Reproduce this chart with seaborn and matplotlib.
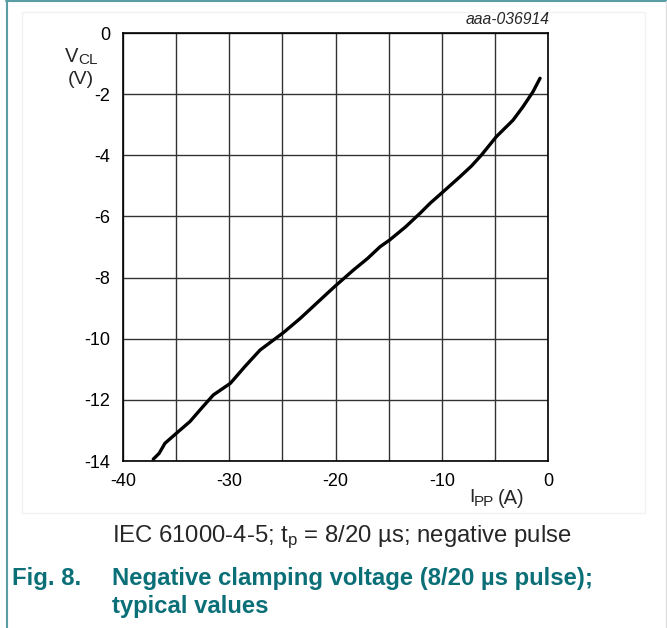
import matplotlib
matplotlib.use("Agg")
import matplotlib.pyplot as plt
import seaborn as sns
import pandas as pd
from matplotlib.lines import Line2D
from matplotlib.patches import Rectangle

# ---- data ----
ipp = [-37.15, -36.6, -36.05, -35.0, -33.7, -32.6, -31.5, -29.9, -28.5, -27.1,
       -24.9, -23.3, -21.5, -20.1, -18.3, -17.0, -15.8, -14.9, -13.4, -12.05,
       -11.1, -9.86, -8.28, -7.2, -6.26, -4.86, -3.29, -2.35, -1.41, -0.75]
vcl = [-13.94, -13.75, -13.42, -13.1, -12.71, -12.27, -11.84, -11.46, -10.90, -10.37,
       -9.80, -9.33, -8.75, -8.30, -7.75, -7.38, -6.99, -6.77, -6.34, -5.90,
       -5.57, -5.19, -4.70, -4.35, -3.99, -3.39, -2.85, -2.41, -1.92, -1.48]
x_ticks = [-40, -30, -20, -10, 0]
y_ticks = [0, -2, -4, -6, -8, -10, -12, -14]
x_grid = [-35, -25, -15, -5]

sns.set_theme(style="white")
plt.rcParams['font.family'] = ['Liberation Sans', 'DejaVu Sans']
plt.rcParams['mathtext.fontset'] = 'custom'
plt.rcParams['mathtext.rm'] = 'Liberation Sans'
plt.rcParams['mathtext.it'] = 'Liberation Sans:italic'
plt.rcParams['mathtext.bf'] = 'Liberation Sans:bold'

W, H = 667, 628
fig = plt.figure(figsize=(W / 100, H / 100), dpi=100)
fig.patch.set_facecolor('white')

def fx(px):
    return px / W

def fy(py):
    return 1 - py / H

ax = fig.add_axes([fx(123), fy(461), fx(548) - fx(123), fy(33) - fy(461)])
df = pd.DataFrame({"ipp": ipp, "vcl": vcl})
sns.lineplot(data=df, x="ipp", y="vcl", ax=ax, color='black', lw=2.4, sort=False)

ax.set_xlim(-40, 0)
ax.set_ylim(-14, 0)
ax.set_xticks(x_ticks)
ax.set_xticks(x_grid, minor=True)
ax.set_yticks(y_ticks)
ax.set_xticklabels([str(v) for v in x_ticks])
ax.set_yticklabels([str(v) for v in y_ticks])
ax.tick_params(axis='both', which='both', length=0, labelsize=13, colors='black')
ax.tick_params(axis='x', pad=9)
ax.tick_params(axis='y', pad=9)
ax.grid(True, which='both', color='#333333', lw=1.0)
ax.set_axisbelow(True)
for s in ax.spines.values():
    s.set_color('black')
    s.set_linewidth(1.2)
ax.set_xlabel('')
ax.set_ylabel('')

# axis labels (main letter + subscript drawn as separate texts)
fig.text(fx(65), fy(56), 'V', ha='left', va='center', fontsize=14.5)
fig.text(fx(78), fy(60), 'CL', ha='left', va='center', fontsize=11)
fig.text(fx(81), fy(79), '(V)', ha='center', va='center', fontsize=14)
fig.text(fx(469), fy(498), 'I', ha='left', va='center', fontsize=14)
fig.text(fx(474), fy(502), 'PP', ha='left', va='center', fontsize=11)
fig.text(fx(498), fy(499), '(A)', ha='left', va='center', fontsize=14.5)
fig.text(fx(550), fy(20), 'aaa-036914', ha='right', va='center', fontsize=11.3,
         style='italic')

# captions
fig.text(fx(112), fy(537), r'IEC 61000-4-5; t$_{\rm p}$ = 8/20 µs; negative pulse',
         ha='left', va='center', fontsize=17.2)
teal = '#0b6f78'
fig.text(fx(12), fy(578), 'Fig. 8.', ha='left', va='center', fontsize=17.2,
         fontweight='bold', color=teal)
fig.text(fx(112), fy(578), 'Negative clamping voltage (8/20 µs pulse);',
         ha='left', va='center', fontsize=17.2, fontweight='bold', color=teal)
fig.text(fx(112), fy(606), 'typical values', ha='left', va='center', fontsize=17.2,
         fontweight='bold', color=teal)

# page frame lines
fig.add_artist(Rectangle((fx(22), fy(513)), fx(645) - fx(22), fy(12) - fy(513),
                         transform=fig.transFigure, fill=False, edgecolor='#f2f2f2', lw=1))
fig.add_artist(Line2D([fx(6), 1], [fy(1), fy(1)], transform=fig.transFigure,
                      color='#5a9ea5', lw=1.5))
fig.add_artist(Line2D([fx(6.5), fx(6.5)], [0, fy(1)], transform=fig.transFigure,
                      color='#5a9ea5', lw=1.5))
fig.add_artist(Line2D([fx(666), fx(666)], [0, fy(1)], transform=fig.transFigure,
                      color='#dddddd', lw=1))

fig.savefig('out.png', dpi=100, facecolor='white')
